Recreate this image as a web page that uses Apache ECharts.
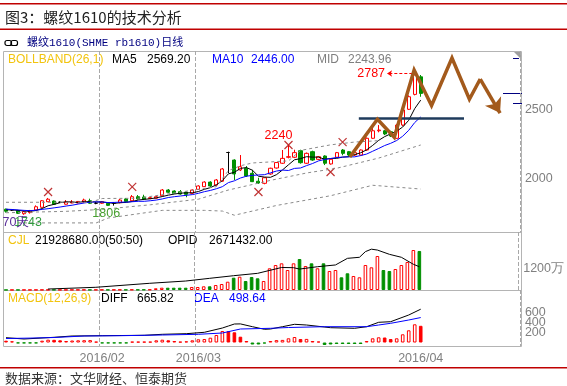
<!DOCTYPE html>
<html><head><meta charset="utf-8">
<script src="https://cdn.jsdelivr.net/npm/echarts@6/dist/echarts.min.js"></script>
<style>html,body{margin:0;padding:0;background:#fff}#c{width:567px;height:386px}</style>
</head><body><div id="c"></div>
<script>
// ---------- data ----------
const dates = ['2016/01/08',
'2016/01/11','2016/01/12','2016/01/13','2016/01/14','2016/01/15',
'2016/01/18','2016/01/19','2016/01/20','2016/01/21','2016/01/22',
'2016/01/25','2016/01/26','2016/01/27','2016/01/28','2016/01/29',
'2016/02/01','2016/02/02','2016/02/03','2016/02/04','2016/02/05',
'2016/02/15','2016/02/16','2016/02/17','2016/02/18','2016/02/19',
'2016/02/22','2016/02/23','2016/02/24','2016/02/25','2016/02/26',
'2016/02/29',
'2016/03/01','2016/03/02','2016/03/03','2016/03/04',
'2016/03/07','2016/03/08','2016/03/09','2016/03/10','2016/03/11',
'2016/03/14','2016/03/15','2016/03/16','2016/03/17','2016/03/18',
'2016/03/21','2016/03/22','2016/03/23','2016/03/24','2016/03/25',
'2016/03/28','2016/03/29','2016/03/30','2016/03/31',
'2016/04/01',
'2016/04/05','2016/04/06','2016/04/07','2016/04/08',
'2016/04/11','2016/04/12','2016/04/13','2016/04/14','2016/04/15',
'2016/04/18','2016/04/19','2016/04/20','2016/04/21','2016/04/22'];
const opens = [1783,1778,1773,1751,1759,1778,1797,1837,1842,1833,
1819,1828,1828,1835,1844,1826,1826,1826,1826,1830,
1857,1844,1873,1871,1860,1862,1880,1921,1914,1909,
1905,1897,1926,1945,1978,1957,1984,2190,2136,2065,
2077,2041,1984,1969,2036,2079,2113,2156,2156,2203,
2113,2196,2141,2165,2108,2156,2208,2196,2172,2172,
2208,2292,2346,2346,2339,2292,2387,2500,2607,2733];
const closes = [1769,1778,1754,1766,1773,1801,1844,1855,1819,1833,
1835,1835,1839,1849,1826,1826,1837,1811,1826,1849,
1838,1873,1857,1855,1866,1873,1921,1905,1897,1892,
1890,1921,1950,1978,1950,1993,2072,2190,2036,2088,
2022,1981,1971,2009,2077,2118,2148,2160,2189,2117,
2184,2136,2160,2113,2141,2189,2184,2172,2189,2208,
2292,2346,2351,2323,2308,2387,2495,2590,2746,2614];
const lows = [1759,1771,1749,1743,1752,1775,1795,1835,1814,1828,
1816,1826,1826,1833,1821,1819,1821,1806,1809,1826,
1833,1842,1853,1850,1855,1859,1878,1900,1892,1887,
1869,1892,1923,1943,1943,1952,1980,2043,1993,2057,
2015,1978,1965,1962,2030,2075,2108,2148,2150,2110,
2108,2130,2136,2100,2103,2150,2170,2160,2165,2168,
2203,2288,2335,2315,2301,2288,2380,2495,2600,2590];
const highs = [1788,1785,1778,1771,1778,1811,1849,1864,1846,1839,
1849,1849,1842,1859,1859,1835,1842,1832,1835,1857,
1864,1885,1885,1887,1869,1878,1928,1928,1919,1921,
1909,1925,1955,1984,1984,2000,2079,2196,2141,2172,
2093,2065,2009,2012,2081,2122,2208,2240,2210,2210,
2190,2203,2165,2170,2146,2194,2215,2201,2194,2212,
2298,2366,2387,2352,2346,2395,2500,2600,2787,2746];
const ma5 = [1779,1778,1775,1770,1768,1774,1788,1808,1818,1830,
1837,1835,1832,1838,1837,1835,1835,1830,1825,1830,
1832,1839,1849,1854,1858,1865,1874,1884,1892,1898,
1901,1901,1910,1926,1938,1958,1989,2037,2048,2076,
2082,2063,2020,2014,2012,2031,2065,2102,2138,2146,
2160,2157,2157,2142,2147,2148,2157,2160,2175,2188,
2209,2241,2277,2304,2324,2343,2373,2421,2505,2566];
const ma10 = [1784,1781,1778,1775,1773,1776,1782,1787,1793,1799,
1806,1812,1820,1828,1834,1836,1835,1831,1832,1834,
1834,1837,1840,1840,1844,1849,1857,1867,1873,1878,
1883,1888,1897,1909,1918,1930,1945,1974,1987,2007,
2020,2026,2029,2031,2044,2057,2064,2061,2076,2079,
2096,2111,2130,2140,2147,2154,2157,2159,2159,2168,
2179,2199,2219,2240,2256,2276,2307,2349,2405,2445];
// Bollinger dashed lines, read at visible vertices: [index, price]
const bollUpper = [[0,1833],[14,1833],[16,1860],[22,1862],[32,1925],[35,1945],[37,2060],[39,2095],[41,2115],[47,2130],[49,2205],[54,2245],[58,2265],[62,2275]];
const bollMid = [[0,1758],[10,1768],[16,1782],[24,1815],[32,1855],[37,1921],[44,1990],[50,2043],[55,2077],[62,2150],[69,2244]];
const bollLower = [[2,1685],[15,1685],[17,1720],[26,1775],[33,1775],[36,1770],[38,1740],[45,1810],[54,1880],[61,1955],[69,1928]];
const xMarks = [[7,1907],[21,1943],[42,1907],[47,2244],[54,2050],[56,2265]];
// volume in 万
const volume = [6,6,7,7,8,9,11,12,11,10,10,11,12,13,12,14,16,14,15,18,17,22,20,24,28,
96,129,129,129,129,129,169,169,208,208,281,337,466,691,747,506,731,658,506,1220,
1405,1500,1124,1500,1742,1349,1500,1220,1500,1068,1124,714,939,787,714,1405,1276,1911,1124,1068,
1180,1405,1574,2248,2193];
// open interest in 万
const opid = [[7,11],[15,31],[24,77],[30,103],[34,134],[38,164],[42,191],[46,258],[48,256],[49,240],[52,267],[55,287],[57,363],[59,375],[60,440],[61,468],[62,458],[64,409],[66,375],[68,295],[69,267]];
const macdHist = [36,24,-16,-16,-16,-16,36,56,54,44,
30,40,44,46,48,16,-16,-16,-16,-16,
-16,16,16,16,16,44,56,44,30,16,
24,44,64,70,96,150,230,226,204,116,
30,-40,-40,-20,30,48,52,84,110,70,
72,30,20,-50,-40,-30,-30,-30,-30,-30,
30,84,104,100,70,84,164,244,364,334];
const diff = [[0,96],[3,70],[8,104],[11,130],[16,136],[23,144],[26,164],[30,176],[33,204],[36,290],[37,330],[38,370],[39,372],[41,316],[43,264],[44,270],[46,316],[48,364],[50,350],[54,296],[58,284],[60,316],[62,404],[64,416],[67,550],[69,666]];
const dea = [[0,80],[4,88],[8,100],[13,130],[19,136],[26,150],[32,164],[36,190],[39,270],[44,284],[47,300],[53,316],[60,316],[62,350],[64,384],[67,450],[69,499]];
const yTicksMain = [2000,2500];
const yTicksVol = [1200];
const yTicksMacd = [200,400,600];
const monthStartIdx = [16,32];
const monthLabelIdx = [16,32,69];
// hand-drawn annotation (x = bar index, y = price)
const zigzag = [[57.2,2158],[61.8,2428],[64.6,2299],[67.9,2782],[70.8,2527],[74.2,2868],[77.1,2572],[78.9,2717]];
const zigzagArrow = [[78.9,2717],[82.2,2473]];
const resistance = [[58.7,2438],[76.2,2438]];
const peakArrow = [[67.6,2757],[63.4,2757]];
const padCount = 16;

// ---------- build ----------
const cats = dates.slice();
for (let k = 0; k < padCount; k++) cats.push('p' + k);
const RED = '#ff0000', GRN = '#009000';
const candles = dates.map((d,i)=>[opens[i],closes[i],lows[i],highs[i]]);
const volData = volume.map((v,i)=>({value:v, itemStyle: closes[i] >= opens[i]
  ? {color:'#fff', borderColor:RED, borderWidth:1}
  : {color:GRN, borderColor:GRN, borderWidth:1}}));
const macdData = macdHist.map((v,i)=>{
  let st;
  if (v < 0) st = {color:GRN, borderColor:GRN, borderWidth:1};
  else if (i > 0 && v > macdHist[i-1]) st = {color:'#fff', borderColor:RED, borderWidth:1};
  else st = {color:RED, borderColor:RED, borderWidth:1};
  return {value:v, itemStyle:st};
});

const F = 'Liberation Sans';
function txt(x,y,s,color,size,family){
  return {type:'text', x:x, y:y, silent:true, style:{text:s, fill:color, fontSize:size||12, fontFamily:family||F, verticalAlign:'middle', align:'left'}};
}
const catAxis = (g, showLabel)=>({
  type:'category', gridIndex:g, data:cats, boundaryGap:true,
  axisLine:{show:false}, axisTick:{show:false},
  axisLabel: showLabel ? {show:true, interval:(i)=>monthLabelIdx.indexOf(i)>=0, hideOverlap:false,
     formatter:(v)=>v.slice(0,7), color:'#808080', fontSize:12.5, margin:6, fontFamily:F} : {show:false},
  splitLine:{show:true, interval:(i)=>monthStartIdx.indexOf(i)>=0, lineStyle:{type:'dashed', color:'#a8a8a8', width:1}}
});
const valAxis = (g, min, max, ticks, fmt, show)=>({
  type:'value', gridIndex:g, position:'right', min:min, max:max, show: show!==false,
  axisLine:{show:false}, axisTick:{show:false}, splitLine:{show:false},
  axisLabel:{customValues:ticks, formatter:fmt, color:'#808080', fontSize:12.5, margin:5, fontFamily:F,
    hideOverlap:false, showMinLabel:true, showMaxLabel:true}
});
const YELLOW = '#f2c40f';
const YB = '#0000ff', GRAY='#7f7f7f';
const BROWN = '#a35a1c';
const MACD_MIN = -70, MACD_MAX = 1050;

const chart = echarts.init(document.getElementById('c'), null, {renderer:'canvas'});
chart.setOption({
  animation:false,
  textStyle:{fontFamily:F},
  grid:[
    {left:3, top:51, width:516.9, height:181},
    {left:3, top:232, width:516.9, height:58},
    {left:3, top:290, width:516.9, height:56}
  ],
  xAxis:[catAxis(0,false), catAxis(1,false), catAxis(2,true),
    {type:'value', gridIndex:0, min:-0.5, max:cats.length-0.5, show:false}],
  yAxis:[
    valAxis(0, 1619.8, 2918.2, yTicksMain, (v)=>String(v)),
    valAxis(1, 0, 3260, yTicksVol, (v)=>v+'万'),
    valAxis(1, 0, 665, [], null, false),
    // one axis per MACD tick so the tightly packed labels are all kept
    valAxis(2, MACD_MIN, MACD_MAX, [yTicksMacd[0]], (v)=>String(v)),
    valAxis(2, MACD_MIN, MACD_MAX, [yTicksMacd[1]], (v)=>String(v)),
    valAxis(2, MACD_MIN, MACD_MAX, [yTicksMacd[2]], (v)=>String(v))
  ],
  series:[
    {type:'candlestick', xAxisIndex:0, yAxisIndex:0, data:candles, barWidth:3.6,
     itemStyle:{color:'#fff', color0:GRN, borderColor:RED, borderColor0:GRN, borderColorDoji:'#000', borderWidth:1},
     markPoint:{symbol:'circle', symbolSize:0, silent:true, itemStyle:{color:'transparent'},
       label:{show:true, position:'inside', fontSize:12.5, fontFamily:F},
       data:[
        {coord:[dates[47],2240], label:{formatter:'2240', color:RED, offset:[-10,-10]}},
        {coord:[dates[17],1806], label:{formatter:'1806', color:'#48a030', offset:[-2,8]}},
        {coord:[dates[3],1743], label:{formatter:'1743', color:'#2e9a3c', offset:[4,8]}},
        {coord:[dates[3],1743], label:{formatter:'70天', color:'#5a2d9a', offset:[-8,8]}}
       ]}},
    {type:'line', xAxisIndex:0, yAxisIndex:0, data:ma5, symbol:'none', lineStyle:{color:'#000', width:1}},
    {type:'line', xAxisIndex:0, yAxisIndex:0, data:ma10, symbol:'none', lineStyle:{color:YB, width:1}},
    {type:'line', xAxisIndex:0, yAxisIndex:0, data:bollUpper, symbol:'none', lineStyle:{color:'#8a8a8a', width:1, type:[3,3]}},
    {type:'line', xAxisIndex:0, yAxisIndex:0, data:bollMid, symbol:'none', lineStyle:{color:'#8a8a8a', width:1, type:[3,3]}},
    {type:'line', xAxisIndex:0, yAxisIndex:0, data:bollLower, symbol:'none', lineStyle:{color:'#8a8a8a', width:1, type:[3,3]}},
    {type:'scatter', xAxisIndex:0, yAxisIndex:0, data:xMarks, symbol:'path://M0,0L10,10M10,0L0,10', symbolSize:8,
     itemStyle:{color:'rgba(0,0,0,0)', borderColor:'#b00000', borderWidth:1.2}},
    {type:'bar', xAxisIndex:1, yAxisIndex:1, data:volData, barWidth:3.6},
    {type:'line', xAxisIndex:1, yAxisIndex:2, data:opid, symbol:'none', lineStyle:{color:'#000', width:1}},
    {type:'bar', xAxisIndex:2, yAxisIndex:3, data:macdData, barWidth:3.6},
    {type:'line', xAxisIndex:2, yAxisIndex:3, data:diff, symbol:'none', lineStyle:{color:'#000', width:1}},
    {type:'line', xAxisIndex:2, yAxisIndex:3, data:dea, symbol:'none', lineStyle:{color:YB, width:1}},
    {type:'lines', coordinateSystem:'cartesian2d', xAxisIndex:3, yAxisIndex:0, polyline:true, silent:true, z:5,
     lineStyle:{color:BROWN, width:3.5, opacity:1, curveness:0, join:'miter'},
     data:[{coords:zigzag}]},
    {type:'lines', coordinateSystem:'cartesian2d', xAxisIndex:3, yAxisIndex:0, silent:true, z:5,
     symbol:['none','arrow'], symbolSize:14,
     lineStyle:{color:BROWN, width:3.5, opacity:1},
     data:[{coords:zigzagArrow}]},
    {type:'lines', coordinateSystem:'cartesian2d', xAxisIndex:3, yAxisIndex:0, silent:true, z:4,
     lineStyle:{color:'#1f3b5c', width:2.5, opacity:1},
     data:[{coords:resistance}]},
    {type:'lines', coordinateSystem:'cartesian2d', xAxisIndex:3, yAxisIndex:0, silent:true, z:4,
     symbol:['none','arrow'], symbolSize:5,
     lineStyle:{color:RED, width:1, type:[3,2], opacity:1},
     label:{show:true, position:'end', formatter:'2787', color:RED, fontSize:12.5, fontFamily:F, distance:2},
     data:[{coords:peakArrow}]}
  ],
  graphic:[
    {type:'rect', silent:true, shape:{x:0,y:3,width:567,height:1.6}, style:{fill:'#c00000'}},
    txt(5,17,'图3：螺纹1610的技术分析','#222',15,'Noto Sans CJK SC'),
    {type:'rect', silent:true, shape:{x:0,y:28.5,width:567,height:1.6}, style:{fill:'#c00000'}},
    {type:'rect', silent:true, shape:{x:5,y:40.5,width:6.5,height:5,r:2}, style:{fill:'none', stroke:'#000', lineWidth:1.2}},
    {type:'rect', silent:true, shape:{x:11,y:40.5,width:6.5,height:5,r:2}, style:{fill:'none', stroke:'#000', lineWidth:1.2}},
    txt(27,43,'螺纹1610(SHME rb1610)日线','#000080',11,"'Liberation Mono','Noto Sans CJK SC'"),
    {type:'rect', silent:true, shape:{x:3.5,y:51.5,width:518,height:295}, style:{fill:'none', stroke:'#b4b4b4', lineWidth:1}},
    {type:'line', silent:true, shape:{x1:3.5,y1:232.5,x2:521.5,y2:232.5}, style:{stroke:'#b4b4b4', lineWidth:1}},
    {type:'line', silent:true, shape:{x1:3.5,y1:290.5,x2:521.5,y2:290.5}, style:{stroke:'#b4b4b4', lineWidth:1}},
    {type:'polygon', silent:true, shape:{points:[[514,52],[521,52],[521,59]]}, style:{fill:'#a0a0a0'}},
    {type:'line', silent:true, shape:{x1:513,y1:58.5,x2:519,y2:58.5}, style:{stroke:'#000080', lineWidth:1}},
    {type:'line', silent:true, shape:{x1:503,y1:93.5,x2:522,y2:93.5}, style:{stroke:'#000080', lineWidth:1}},
    {type:'line', silent:true, shape:{x1:513,y1:103.5,x2:522,y2:103.5}, style:{stroke:'#000080', lineWidth:1}},
    txt(8,60,'BOLLBAND(26,1)',YELLOW,12), txt(112,60,'MA5','#000',12), txt(147,60,'2569.20','#000',12),
    txt(212,60,'MA10',YB,12), txt(251,60,'2446.00',YB,12), txt(317,60,'MID',GRAY,12), txt(348,60,'2243.96',GRAY,12),
    txt(8,241,'CJL',YELLOW,12), txt(35,241,'21928680.00(50:50)','#000',12), txt(168,241,'OPID','#000',12), txt(209,241,'2671432.00','#000',12),
    txt(8,299,'MACD(12,26,9)',YELLOW,12), txt(101,299,'DIFF','#000',12), txt(137,299,'665.82','#000',12),
    txt(194,299,'DEA',YB,12), txt(229,299,'498.64',YB,12),
    {type:'rect', silent:true, shape:{x:0,y:367,width:567,height:1.6}, style:{fill:'#c00000'}},
    txt(5,378,'数据来源：文华财经、恒泰期货','#333',13,'Noto Sans CJK SC')
  ]
});
</script></body></html>
